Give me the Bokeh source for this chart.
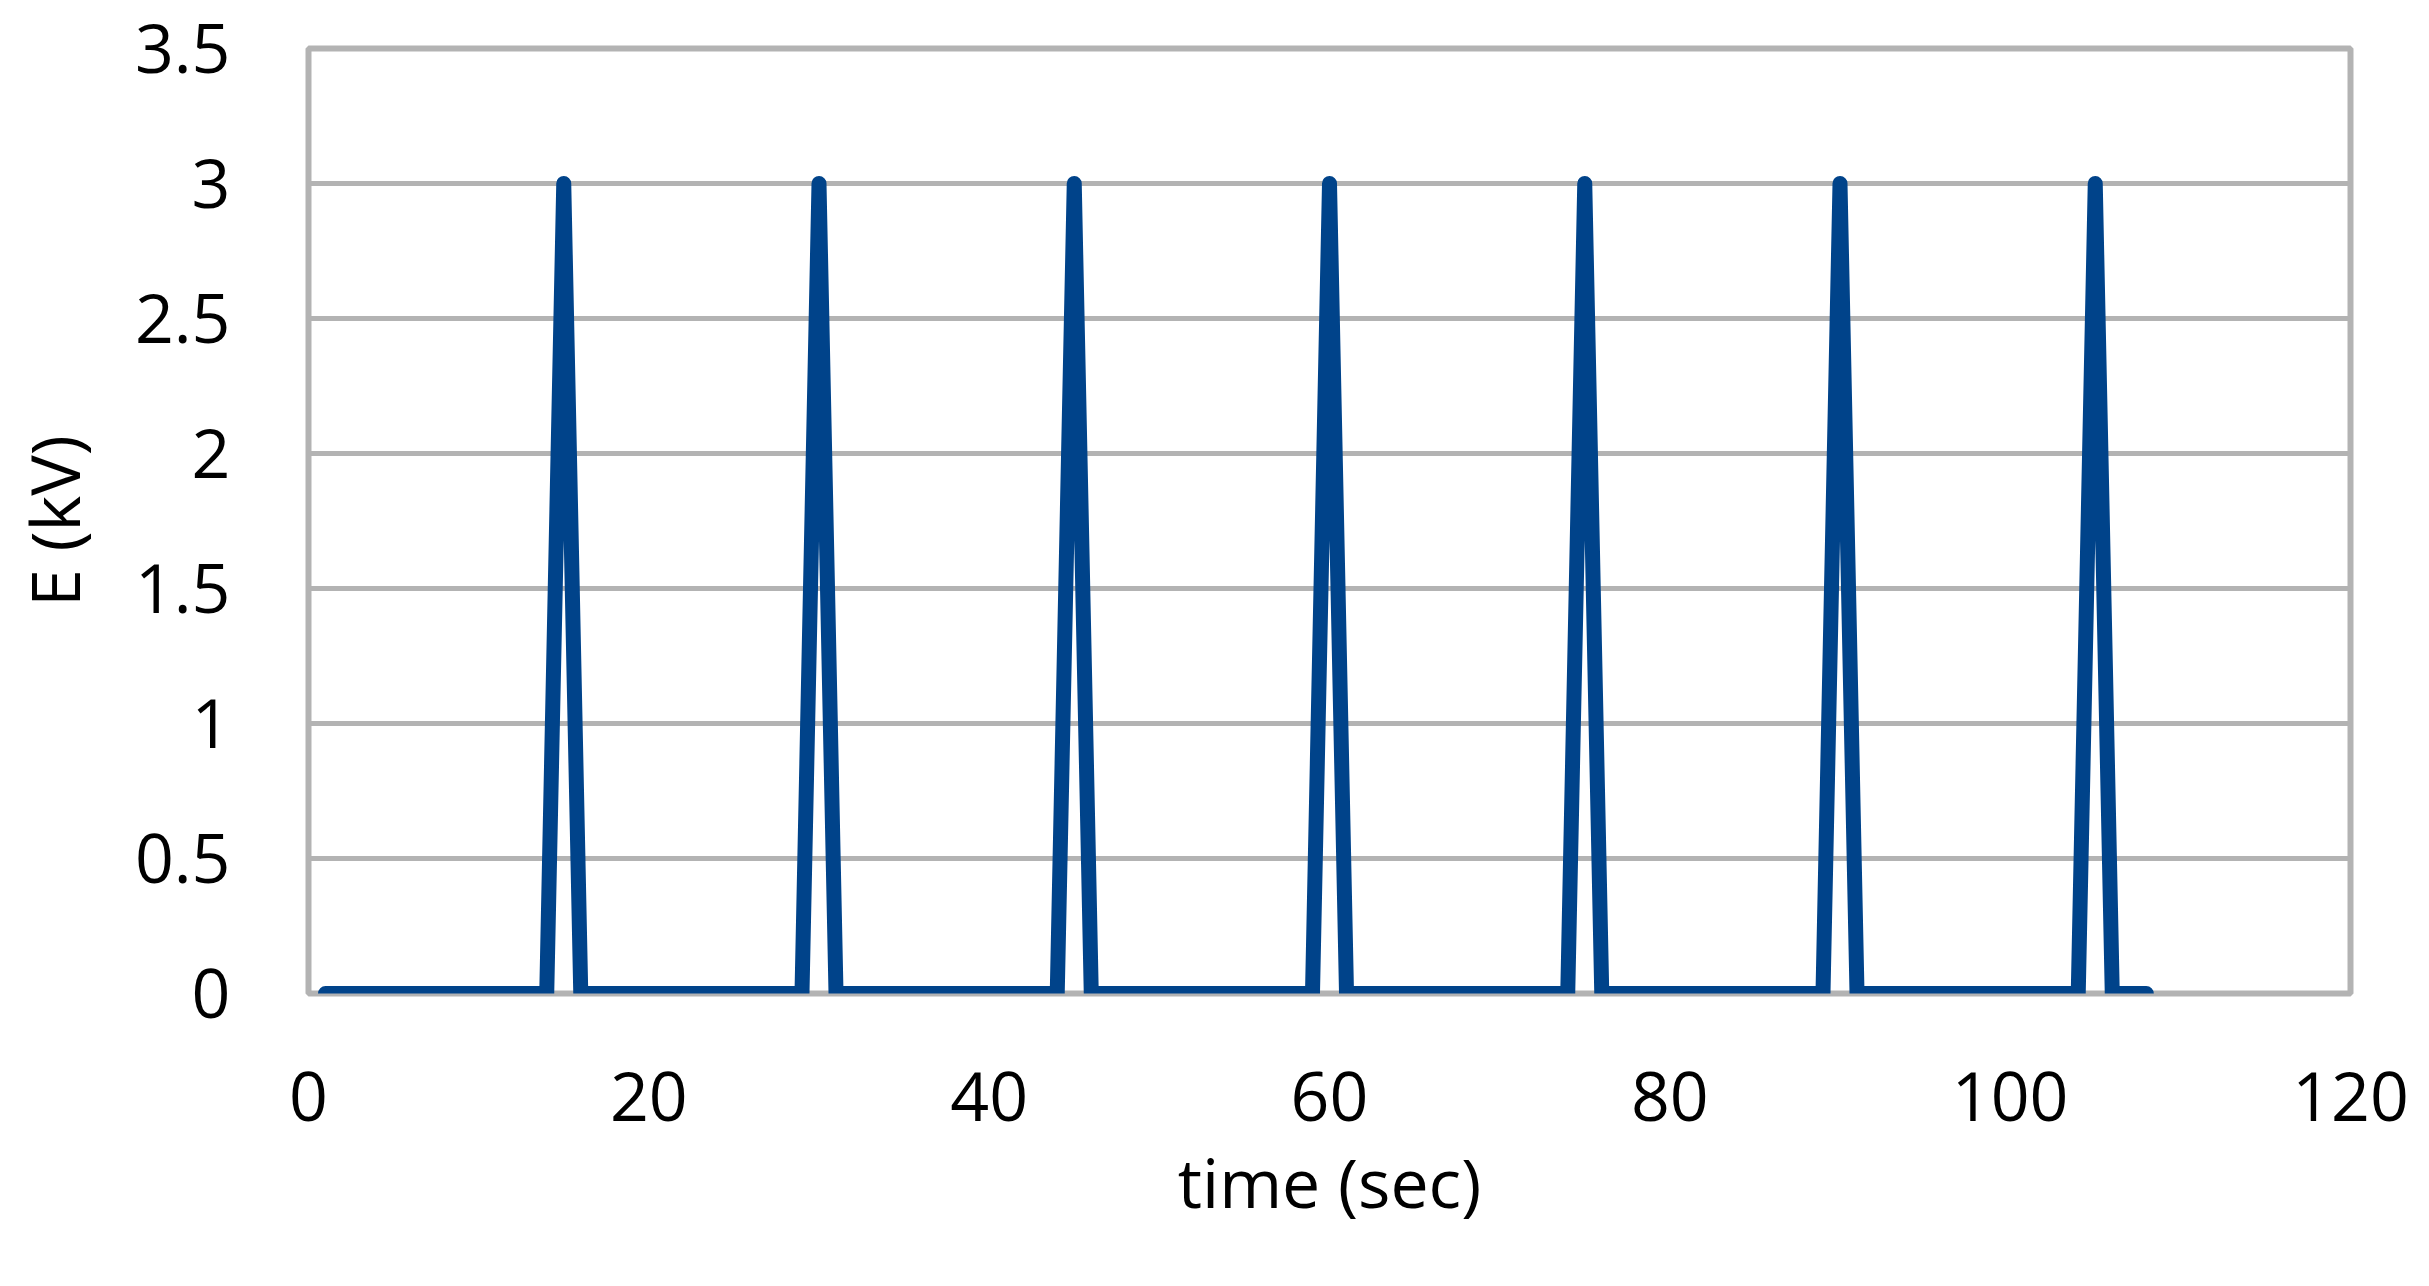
from bokeh.plotting import figure
from bokeh.embed import file_html
from bokeh.resources import INLINE
from bokeh.models import Range1d, FixedTicker

# time (sec)
time_sec = list(range(1, 109))
# E (kV)
e_kv = [
    0, 0, 0, 0, 0, 0, 0, 0, 0, 0, 0, 0, 0, 0, 3,
    0, 0, 0, 0, 0, 0, 0, 0, 0, 0, 0, 0, 0, 0, 3,
    0, 0, 0, 0, 0, 0, 0, 0, 0, 0, 0, 0, 0, 0, 3,
    0, 0, 0, 0, 0, 0, 0, 0, 0, 0, 0, 0, 0, 0, 3,
    0, 0, 0, 0, 0, 0, 0, 0, 0, 0, 0, 0, 0, 0, 3,
    0, 0, 0, 0, 0, 0, 0, 0, 0, 0, 0, 0, 0, 0, 3,
    0, 0, 0, 0, 0, 0, 0, 0, 0, 0, 0, 0, 0, 0, 3,
    0, 0, 0,
]

x_ticks = [0, 20, 40, 60, 80, 100, 120]
x_tick_labels = ["0", "20", "40", "60", "80", "100", "120"]
y_ticks = [0, 0.5, 1, 1.5, 2, 2.5, 3, 3.5]
y_tick_labels = ["0", "0.5", "1", "1.5", "2", "2.5", "3", "3.5"]

FONT = "Open Sans"
GRID = "#b3b3b3"
LINE = "#00438A"

p = figure(frame_width=2042, frame_height=945, output_backend="svg", toolbar_location=None,
           x_range=Range1d(0, 120), y_range=Range1d(0, 3.5),
           min_border_left=308, min_border_right=60, min_border_top=48, min_border_bottom=250)

p.line(time_sec, e_kv, line_color=LINE, line_width=15, line_join="round", line_cap="round")

p.outline_line_color = GRID
p.outline_line_width = 6
p.xgrid.grid_line_color = None
p.ygrid.grid_line_color = GRID
p.ygrid.grid_line_width = 5

for ax in (p.xaxis[0], p.yaxis[0]):
    ax.axis_line_color = None
    ax.major_tick_line_color = None
    ax.minor_tick_line_color = None
    ax.major_label_text_font = FONT
    ax.major_label_text_font_size = "68px"
    ax.major_label_text_color = "black"
    ax.axis_label_text_font = FONT
    ax.axis_label_text_font_size = "68px"
    ax.axis_label_text_font_style = "normal"
    ax.axis_label_text_color = "black"

p.xaxis.ticker = FixedTicker(ticks=x_ticks)
p.xaxis.major_label_overrides = dict(zip(x_ticks, x_tick_labels))
p.yaxis.ticker = FixedTicker(ticks=y_ticks)
p.yaxis.major_label_overrides = dict(zip(y_ticks, y_tick_labels))
p.ygrid.ticker = FixedTicker(ticks=y_ticks)

p.xaxis.axis_label = "time (sec)"
p.yaxis.axis_label = "E (kV)"
p.xaxis.major_label_standoff = 72
p.yaxis.major_label_standoff = 72
p.xaxis.axis_label_standoff = 11
p.yaxis.axis_label_standoff = 32

open("out.html", "w").write(file_html(p, INLINE))
